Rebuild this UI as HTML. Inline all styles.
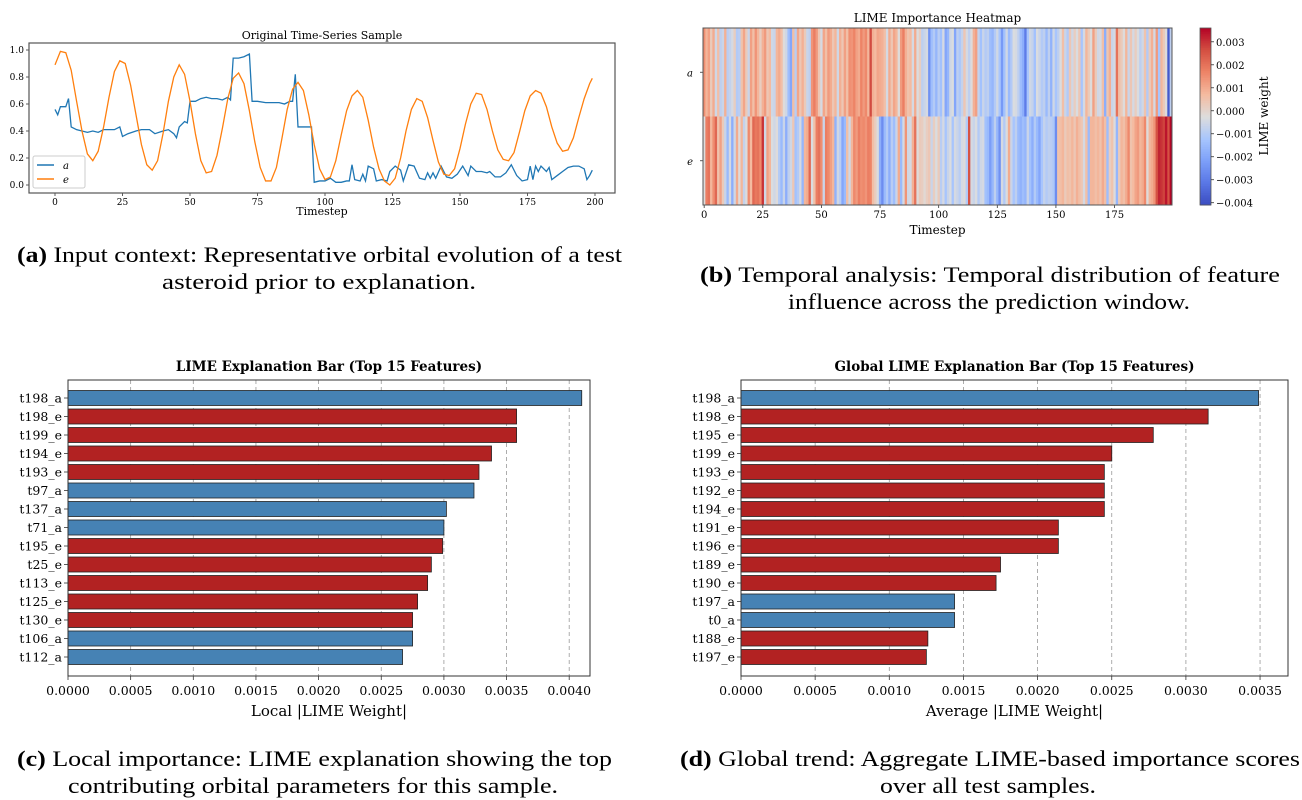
<!DOCTYPE html>
<html><head><meta charset="utf-8"><style>
html,body{margin:0;padding:0;background:#fff;}
svg{display:block;font-family:"DejaVu Serif","Liberation Serif",serif;}
.cap{font-family:"Liberation Serif","DejaVu Serif",serif;font-size:22px;fill:#000;}
</style></head><body>
<svg id="fig" width="1302" height="800" viewBox="0 0 1302 800" xmlns="http://www.w3.org/2000/svg">
<g id="ga"></g>
<g id="gb"></g>
<g id="gc"></g>
<g id="gd"></g>
<text class="cap" x="17" y="262" textLength="605" lengthAdjust="spacingAndGlyphs"><tspan font-weight="bold">(a)</tspan> Input context: Representative orbital evolution of a test</text>
<text class="cap" x="162" y="289" textLength="314" lengthAdjust="spacingAndGlyphs">asteroid prior to explanation.</text>
<text class="cap" x="700" y="282" textLength="580" lengthAdjust="spacingAndGlyphs"><tspan font-weight="bold">(b)</tspan> Temporal analysis: Temporal distribution of feature</text>
<text class="cap" x="788" y="309" textLength="402" lengthAdjust="spacingAndGlyphs">influence across the prediction window.</text>
<text class="cap" x="17" y="766" textLength="595" lengthAdjust="spacingAndGlyphs"><tspan font-weight="bold">(c)</tspan> Local importance: LIME explanation showing the top</text>
<text class="cap" x="68" y="793" textLength="490" lengthAdjust="spacingAndGlyphs">contributing orbital parameters for this sample.</text>
<text class="cap" x="680" y="766" textLength="620" lengthAdjust="spacingAndGlyphs"><tspan font-weight="bold">(d)</tspan> Global trend: Aggregate LIME-based importance scores</text>
<text class="cap" x="880" y="793" textLength="216" lengthAdjust="spacingAndGlyphs">over all test samples.</text>
</svg>
<script>
// ---- chart (a) data ----
const aSteps=[0,1,2,4,5,6,8,10,12,14,16,18,20,22,24,25,27,30,32,35,37,40,42,44,45,46,48,49,50,52,54,56,58,60,62,64,65,66,68,70,72,73,75,78,80,83,85,87,88,89,90,92,94,95,96,98,100,102,104,106,108,109,110,111,113,114,115,116,118,119,121,123,124,126,128,129,131,133,135,137,138,139,140,141,143,145,147,149,151,153,154,156,158,160,161,163,165,167,169,171,173,175,176,177,178,179,180,182,183,184,186,188,190,192,194,196,197,198,199];
const aValues=[.56,.52,.58,.58,.64,.43,.41,.40,.39,.40,.39,.41,.41,.41,.43,.36,.38,.40,.41,.41,.38,.40,.41,.38,.35,.43,.47,.46,.62,.62,.64,.65,.64,.64,.63,.65,.63,.94,.94,.95,.97,.62,.62,.61,.61,.61,.60,.62,.62,.82,.43,.43,.43,.43,.02,.03,.03,.05,.02,.02,.03,.03,.15,.04,.03,.08,.03,.14,.12,.03,.04,.03,.10,.14,.11,.03,.15,.14,.05,.04,.09,.05,.09,.05,.14,.06,.05,.08,.14,.07,.14,.10,.10,.09,.10,.06,.06,.09,.15,.07,.03,.04,.14,.04,.14,.10,.14,.10,.13,.04,.07,.10,.13,.14,.14,.12,.04,.07,.11];
const eSteps=[0,2,4,6,8,10,12,14,16,18,20,22,24,26,28,30,32,34,36,38,40,42,44,46,48,50,52,54,56,58,60,62,64,66,68,70,72,74,76,78,80,82,84,86,88,90,92,94,96,98,100,102,104,106,108,110,112,114,116,118,120,122,124,126,128,130,132,134,136,138,140,142,144,146,148,150,152,154,156,158,160,162,164,166,168,170,172,174,176,178,180,182,184,186,188,190,192,194,196,198,199];
const eValues=[.89,.99,.98,.85,.62,.40,.23,.18,.25,.43,.65,.84,.92,.90,.74,.52,.30,.15,.11,.18,.38,.62,.80,.89,.82,.62,.38,.18,.09,.10,.22,.42,.64,.79,.83,.75,.55,.32,.13,.03,.03,.13,.34,.56,.71,.76,.70,.52,.30,.12,.04,.06,.18,.37,.55,.66,.70,.65,.48,.28,.12,.03,.0,.05,.20,.40,.56,.64,.62,.50,.33,.17,.08,.07,.12,.27,.45,.60,.68,.67,.56,.40,.26,.19,.18,.24,.39,.55,.66,.70,.68,.58,.43,.31,.25,.26,.35,.50,.64,.75,.79];
const aXTicks=[0,25,50,75,100,125,150,175,200];
const aYTicks=[0,0.2,0.4,0.6,0.8,1.0];
// ---- chart (b) data (LIME weight, units of 1e-3) ----
const heatRows=["a","e"];
const heatA=[1.5,0.8,1.2,0.3,1.0,-0.5,0.6,-0.8,-0.6,0.9,-0.9,-0.7,-0.4,0.2,-1.0,-0.9,0.5,1.1,0.3,-0.6,1.2,0.6,1.4,0.8,0.2,
0.9,1.3,0.4,0.7,-0.5,-0.6,0.8,1.0,0.6,-0.2,-0.5,-1.4,-2.0,0.6,-0.9,1.1,0.4,0.9,0.3,-0.6,-0.8,1.4,1.8,1.3,0.4,
-0.4,1.1,0.6,1.3,1.0,0.4,0.8,-0.5,0.9,0.4,1.2,0.6,1.5,1.4,1.7,1.2,1.0,1.7,1.3,1.6,0.8,2.7,0.9,0.7,1.1,
1.0,0.9,0.6,-0.4,1.0,0.4,1.1,0.8,-0.2,1.3,1.8,0.9,0.5,0.7,-0.4,1.0,-0.3,0.2,-0.8,-0.6,-0.4,-2.5,-1.4,-1.0,-1.6,
-0.9,-1.3,-0.4,-2.0,-1.6,-0.5,-0.3,-2.0,-0.8,-1.1,-0.7,0.4,-0.4,-0.8,-0.2,0.9,1.2,-0.7,-1.3,-0.6,-1.0,-0.8,-1.4,-1.6,-1.0,
-0.5,-1.2,-2.3,-1.3,-0.5,-1.5,-1.0,-0.3,-0.4,-0.8,-1.4,-1.8,-3.0,-1.2,-0.5,-0.7,-1.3,-0.3,-0.6,-1.0,-0.8,-1.5,-0.8,-1.7,-0.5,
-1.2,-0.8,-0.3,0.6,-0.6,-1.0,0.4,-0.5,0.2,-0.3,0.4,-1.2,-0.4,0.8,0.3,-0.2,1.2,0.3,-0.5,-0.4,0.6,-1.8,0.4,0.9,-0.6,
-0.4,2.0,0.6,0.3,-0.2,0.8,-0.6,0.4,-0.4,0.2,-0.3,-0.8,-0.5,0.5,-1.0,0.3,0.9,-0.4,1.3,-1.2,0.8,0.3,-0.2,-3.8,-0.8];
const heatE=[-0.2,1.8,2.0,0.8,1.5,2.2,0.5,1.2,0.3,-0.6,-1.5,-0.4,-1.8,-0.5,1.0,-0.2,0.8,-0.7,-0.2,1.6,0.7,2.2,1.9,2.0,1.6,
3.0,-0.5,1.2,0.8,-0.3,-0.5,-0.2,-1.0,-1.5,-0.6,-1.8,-0.8,-0.5,0.4,-1.3,-1.0,-0.4,-1.6,0.8,1.0,2.2,-0.3,0.6,1.8,2.0,
1.5,-0.6,1.8,1.6,1.2,0.8,-1.7,-0.5,-0.9,-2.0,-1.5,0.6,-0.5,0.8,1.6,1.3,1.8,1.5,1.6,1.4,1.8,1.7,0.6,0.2,-0.3,
-1.8,-2.6,-1.5,-1.0,-1.8,-0.9,-1.4,-0.6,1.0,-1.5,-0.4,1.4,-0.5,-0.4,0.9,2.0,-0.2,0.3,0.2,-0.1,0.2,0.4,-0.6,0.2,-0.3,
0.3,-0.9,-0.4,-1.2,-0.6,-0.3,-1.2,-0.4,-0.6,-0.9,-0.4,-0.2,-1.0,2.6,-0.4,-0.6,-0.3,-1.0,-0.5,-0.4,-1.3,-1.5,-2.2,-1.6,-0.8,
-1.6,-2.5,-0.4,-1.0,-0.3,1.0,-0.6,-1.2,-0.8,-1.5,-1.7,-1.4,-1.6,-0.6,-1.3,-1.8,-1.0,-1.5,-2.0,-1.2,-0.7,-1.0,-0.8,-0.9,-1.1,
-2.6,0.5,0.6,0.8,0.3,0.6,0.5,0.8,0.4,0.9,0.6,0.4,-0.4,0.6,-1.5,0.8,0.8,0.6,0.8,0.5,1.0,0.6,-1.4,0.2,0.5,
-0.2,-1.6,0.3,0.8,0.6,1.0,1.6,0.5,0.7,1.1,1.3,0.8,1.0,1.6,-0.2,0.8,1.0,1.4,2.6,3.2,3.0,2.8,3.4,2.6,3.6];
const heatXTicks=[0,25,50,75,100,125,150,175];
const cbarTicks=[0.003,0.002,0.001,0.000,-0.001,-0.002,-0.003,-0.004];
// ---- chart (c) data ----
const localFeatures=["t198_a","t198_e","t199_e","t194_e","t193_e","t97_a","t137_a","t71_a","t195_e","t25_e","t113_e","t125_e","t130_e","t106_a","t112_a"];
const localValues=[0.00410,0.00358,0.00358,0.00338,0.00328,0.00324,0.00302,0.00300,0.00299,0.00290,0.00287,0.00279,0.00275,0.00275,0.00267];
const localTicks=[0,0.0005,0.001,0.0015,0.002,0.0025,0.003,0.0035,0.004];
// ---- chart (d) data ----
const globalFeatures=["t198_a","t198_e","t195_e","t199_e","t193_e","t192_e","t194_e","t191_e","t196_e","t189_e","t190_e","t197_a","t0_a","t188_e","t197_e"];
const globalValues=[0.00349,0.00315,0.00278,0.00250,0.00245,0.00245,0.00245,0.00214,0.00214,0.00175,0.00172,0.00144,0.00144,0.00126,0.00125];
const globalTicks=[0,0.0005,0.001,0.0015,0.002,0.0025,0.003,0.0035];

const NS="http://www.w3.org/2000/svg";
function mk(parent,tag,attrs,txt){const el=document.createElementNS(NS,tag);for(const k in attrs)el.setAttribute(k,attrs[k]);if(txt!==undefined)el.textContent=txt;parent.appendChild(el);return el;}

// ===== chart a =====
(function(){
const g=document.getElementById('ga');
const L=29,R=615,T=43,B=193;
const x=v=>55+(v/200)*(595-55);
const y=v=>185-v*135;
const title=mk(g,'text',{x:(L+R)/2,y:39,'text-anchor':'middle','font-size':11},'Original Time-Series Sample');


aXTicks.forEach(t=>{
 const tk=mk(g,'line',{x1:x(t),x2:x(t),y1:B,y2:B+3,stroke:'#333','stroke-width':0.8});
 
 
 const lb=mk(g,'text',{x:x(t),y:B+12,'text-anchor':'middle','font-size':9},String(t));
 
 
});
aYTicks.forEach(t=>{
 const tk=mk(g,'line',{x1:L-3,x2:L,y1:y(t),y2:y(t),stroke:'#333','stroke-width':0.8});
 
 
 const lb=mk(g,'text',{x:L-5,y:y(t)+3,'text-anchor':'end','font-size':9},t.toFixed(1));
 
 
});
const xl=mk(g,'text',{x:(L+R)/2,y:215,'text-anchor':'middle','font-size':11},'Timestep');


const pa=mk(g,'polyline',{points:aSteps.map((s,i)=>x(s)+','+y(aValues[i])).join(' '),fill:'none',stroke:'#1f77b4','stroke-width':1.3});


const pe=mk(g,'polyline',{points:eSteps.map((s,i)=>x(s)+','+y(eValues[i])).join(' '),fill:'none',stroke:'#ff7f0e','stroke-width':1.3});


const fr=mk(g,'rect',{x:L,y:T,width:R-L,height:B-T,fill:'none',stroke:'#555','stroke-width':1.2});


const lg=mk(g,'g',{});


mk(lg,'rect',{x:33,y:156,width:52,height:32,fill:'#fff',stroke:'#ccc',rx:2});
mk(lg,'line',{x1:37,x2:54,y1:165,y2:165,stroke:'#1f77b4','stroke-width':1.5});
const la=mk(lg,'text',{x:63,y:169,'font-size':10,'font-style':'italic'},'a');


mk(lg,'line',{x1:37,x2:54,y1:179,y2:179,stroke:'#ff7f0e','stroke-width':1.5});
const le=mk(lg,'text',{x:63,y:183,'font-size':10,'font-style':'italic'},'e');


})();

// ===== chart b =====
function coolwarm(t){
 const st=[[0,[58,76,192]],[0.125,[89,118,229]],[0.25,[124,159,249]],[0.375,[167,197,253]],[0.5,[221,221,221]],[0.625,[244,187,160]],[0.75,[238,133,104]],[0.875,[212,80,66]],[1,[180,4,38]]];
 t=Math.max(0,Math.min(1,t));
 for(let i=1;i<st.length;i++){if(t<=st[i][0]){const a=st[i-1],b=st[i];const f=(t-a[0])/(b[0]-a[0]);return 'rgb('+a[1].map((c,j)=>Math.round(c+(b[1][j]-c)*f)).join(',')+')';}}
 return 'rgb(180,4,38)';
}
(function(){
const g=document.getElementById('gb');
const L=703,R=1172,T=28,B=205;
const vmin=-0.0041,vmax=0.0036;
const cw=(R-L)/200;
const x=i=>L+i*cw;
const rowH=(B-T)/heatRows.length;
const title=mk(g,'text',{x:(L+R)/2,y:22,'text-anchor':'middle','font-size':12},'LIME Importance Heatmap');


[heatA,heatE].forEach((row,r)=>{
 row.forEach((v,i)=>{
  const w=v*1e-3;
  const c=mk(g,'rect',{x:x(i),y:T+r*rowH,width:cw+0.4,height:rowH,fill:coolwarm((w-vmin)/(vmax-vmin))});
  
  
 });
 const lb=mk(g,'text',{x:693,y:T+r*rowH+rowH/2+4,'text-anchor':'end','font-size':10,'font-style':'italic'},heatRows[r]);
 
 
 mk(g,'line',{x1:L-3,x2:L,y1:T+r*rowH+rowH/2,y2:T+r*rowH+rowH/2,stroke:'#333','stroke-width':0.8});
});
heatXTicks.forEach(t=>{
 const cx=x(t)+cw/2;
 mk(g,'line',{x1:cx,x2:cx,y1:B,y2:B+3,stroke:'#333','stroke-width':0.8});
 const lb=mk(g,'text',{x:cx,y:B+13,'text-anchor':'middle','font-size':10},String(t));
 
 
});
const xl=mk(g,'text',{x:(L+R)/2,y:234,'text-anchor':'middle','font-size':12},'Timestep');


mk(g,'rect',{x:L,y:T,width:R-L,height:B-T,fill:'none',stroke:'#555','stroke-width':1});
const cb=mk(g,'g',{});


const cy=v=>B-(v-vmin)/(vmax-vmin)*(B-T);
for(let k=0;k<100;k++){
 const v0=vmin+(vmax-vmin)*k/100;
 mk(cb,'rect',{x:1200,y:cy(v0+(vmax-vmin)/100),width:11,height:(B-T)/100+0.5,fill:coolwarm((k+0.5)/100)});
}
mk(cb,'rect',{x:1200,y:T,width:11,height:B-T,fill:'none',stroke:'#555','stroke-width':0.8});
cbarTicks.forEach(t=>{
 mk(cb,'line',{x1:1211,x2:1214,y1:cy(t),y2:cy(t),stroke:'#333','stroke-width':0.8});
 const lb=mk(cb,'text',{x:1216,y:cy(t)+4,'font-size':10},(t<0?'\u2212':'')+Math.abs(t).toFixed(3));
 
 
});
const cl=mk(cb,'text',{x:0,y:0,'text-anchor':'middle','font-size':12,transform:'translate(1268,116) rotate(-90)'},'LIME weight');


})();

// ===== bar charts =====
function barChart(gid,feats,vals,ticks,L,R,zeroX,pxPerUnit,titleTxt,xlabel,labelRight){
 const g=document.getElementById(gid);
 const T=380,B=676;
 const x=v=>zeroX+v*pxPerUnit;
 const yc=i=>398+i*18.5;
 const title=mk(g,'text',{x:(L+R)/2,y:371,'text-anchor':'middle','font-size':13.5,'font-weight':'bold'},titleTxt);
 
 
 ticks.forEach(t=>{
  const gl=mk(g,'line',{x1:x(t),x2:x(t),y1:T,y2:B,stroke:'#999','stroke-width':0.8,'stroke-dasharray':'4,3'});
  
  
  mk(g,'line',{x1:x(t),x2:x(t),y1:B,y2:B+4,stroke:'#333','stroke-width':0.8});
  const lb=mk(g,'text',{x:x(t),y:B+19,'text-anchor':'middle','font-size':12.5},t.toFixed(4));
  
  
 });
 feats.forEach((f,i)=>{
  const isA=f.endsWith('_a');
  const b=mk(g,'rect',{x:x(0),y:yc(i)-7.5,width:x(vals[i])-x(0),height:15,fill:isA?'#4682b4':'#b22222',stroke:'#222','stroke-width':0.8});
  
  
  mk(g,'line',{x1:L-4,x2:L,y1:yc(i),y2:yc(i),stroke:'#333','stroke-width':0.8});
  const lb=mk(g,'text',{x:labelRight,y:yc(i)+4.5,'text-anchor':'end','font-size':12.5},f);
  
  
 });
 mk(g,'rect',{x:L,y:T,width:R-L,height:B-T,fill:'none',stroke:'#333','stroke-width':1});
 const xl=mk(g,'text',{x:(L+R)/2,y:716,'text-anchor':'middle','font-size':15},xlabel);
 
 
}
barChart('gc',localFeatures,localValues,localTicks,68,590,68,125300,'LIME Explanation Bar (Top 15 Features)','Local |LIME Weight|',62);
barChart('gd',globalFeatures,globalValues,globalTicks,741,1288,741,148300,'Global LIME Explanation Bar (Top 15 Features)','Average |LIME Weight|',735);
</script>
</body></html>
